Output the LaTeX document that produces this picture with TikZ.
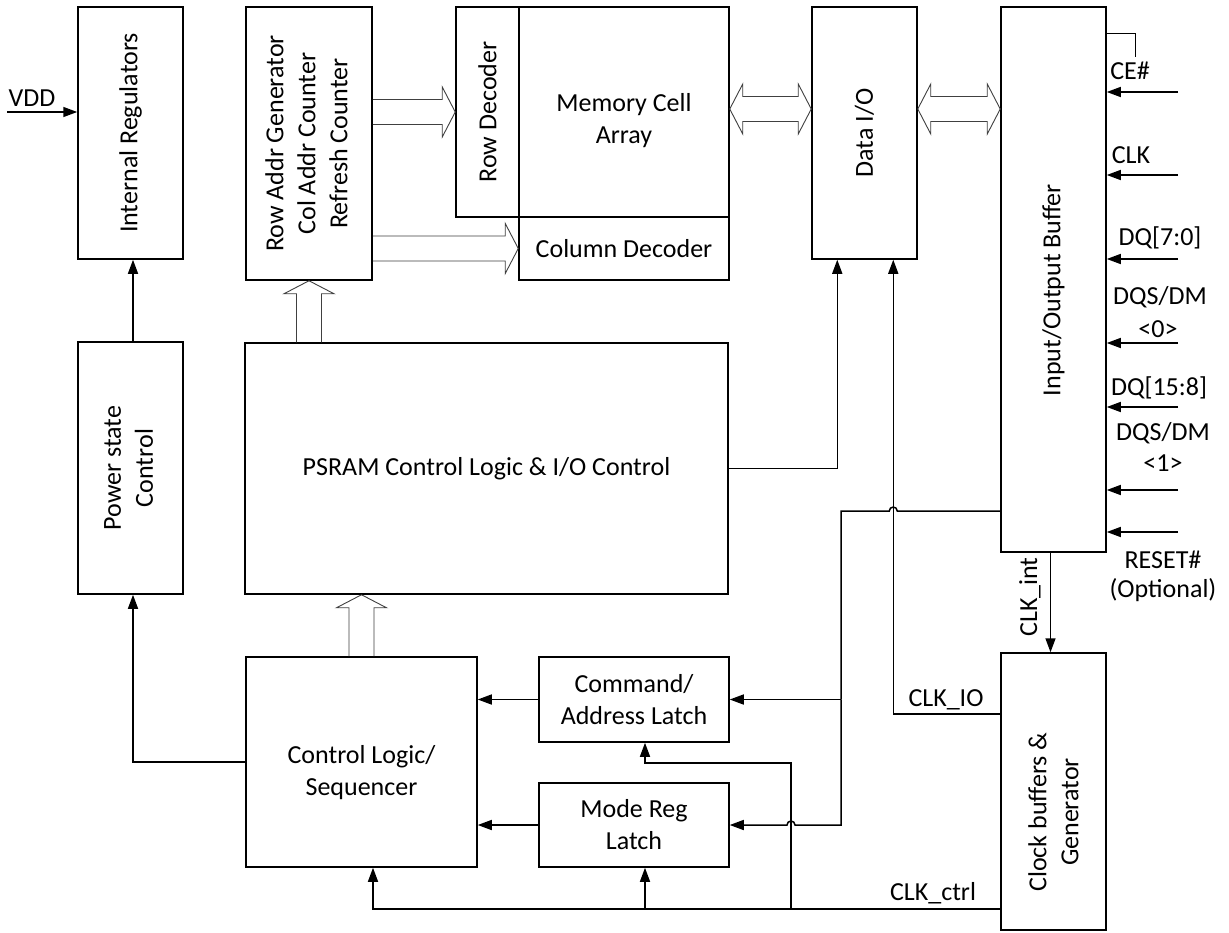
\documentclass[tikz,border=0pt]{standalone}
\usepackage{fontspec}
\setmainfont{Carlito}
\usetikzlibrary{arrows.meta,calc}
\newcommand{\fsz}{\fontsize{26}{32}\selectfont}
\newcommand{\hollowarrow}[2]{%
  \path ($(#2)!13pt!(#1)$) coordinate (hb);
  \draw[hollow] ($(#1)!12.5pt!90:(#2)$) -- ($(hb)!12.5pt!90:(#2)$) -- ($(hb)!25pt!90:(#2)$) -- (#2)
    -- ($(hb)!25pt!-90:(#2)$) -- ($(hb)!12.5pt!-90:(#2)$) -- ($(#1)!12.5pt!-90:(#2)$);}
\newcommand{\hollowdouble}[2]{%
  \path ($(#1)!13pt!(#2)$) coordinate (hba) ($(#2)!13pt!(#1)$) coordinate (hbb);
  \draw[hollow] (#1) -- ($(hba)!25pt!90:(#2)$) -- ($(hba)!12.5pt!90:(#2)$) -- ($(hbb)!12.5pt!-90:(#1)$)
    -- ($(hbb)!25pt!-90:(#1)$) -- (#2) -- ($(hbb)!25pt!90:(#1)$) -- ($(hbb)!12.5pt!90:(#1)$)
    -- ($(hba)!12.5pt!-90:(#2)$) -- ($(hba)!25pt!-90:(#2)$) -- cycle;}
\begin{document}
\begin{tikzpicture}[x=1pt,y=-1pt,
  box/.style={draw,line width=1.5pt,inner sep=0pt,align=center,font=\fsz},
  lbl/.style={font=\fsz,inner sep=0pt,align=center},
  wire/.style={line width=1.5pt},
  arr/.style={line width=1.5pt,-{Triangle[length=14pt,width=10pt]}},
  hollow/.style={line width=0.9pt,draw=black!75,line join=miter},
  thinline/.style={line width=0.8pt}]
\fill[white] (0,0) rectangle (1229,932);
\useasboundingbox (0,0) rectangle (1229,932);

% boxes
\node[box,minimum width=105pt,minimum height=252pt] (reg) at (130.5,133) {\rotatebox{90}{Internal Regulators}};
\node[box,minimum width=105pt,minimum height=252pt] (pwr) at (130.5,468) {\rotatebox{90}{\begin{tabular}{@{}c@{}}Power state\\Control\end{tabular}}};
\node[box,minimum width=126pt,minimum height=273pt] (rag) at (309,143.5) {\rotatebox{90}{\begin{tabular}{@{}c@{}}Row Addr Generator\\Col Addr Counter\\Refresh Counter\end{tabular}}};
\node[box,minimum width=63pt,minimum height=210pt] (rowdec) at (487.5,112) {\rotatebox{90}{Row Decoder}};
\node[box,minimum width=210pt,minimum height=210pt] (mem) at (624,112) {};
\node[lbl] (memtxt) at (624,121) {Memory Cell\\Array};
\node[box,minimum width=210pt,minimum height=63pt] (coldec) at (624,248.5) {Column Decoder};
\node[box,minimum width=105pt,minimum height=252pt] (dio) at (864.5,133) {\rotatebox{90}{Data I/O}};
\node[box,minimum width=105pt,minimum height=545pt] (iob) at (1053.5,279.5) {};
\node[lbl,rotate=90] (iobtxt) at (1053.5,290) {Input/Output Buffer};
\node[box,minimum width=483pt,minimum height=251pt] (psram) at (486.5,468.5) {PSRAM Control Logic \& I/O Control};
\node[box,minimum width=231pt,minimum height=210pt] (ctl) at (361.5,762) {};
\node[lbl] (ctltxt) at (361.5,773) {Control Logic/\\Sequencer};
\node[box,minimum width=190pt,minimum height=85pt] (cmd) at (634,699.5) {Command/\\Address Latch};
\node[box,minimum width=190pt,minimum height=84pt] (mode) at (634,825) {Mode Reg\\Latch};
\node[box,minimum width=105pt,minimum height=277pt] (clk) at (1053.5,791.5) {};
\node[lbl,rotate=90] (clktxt) at (1053.5,812) {Clock buffers \&\\Generator};

% hollow bus arrows
\coordinate (ragE1) at (rag.east |- rowdec.west);
\hollowarrow{ragE1}{rowdec.west}
\coordinate (ragE2) at (rag.east |- coldec.west);
\hollowarrow{ragE2}{coldec.west}
\coordinate (psN) at (rag.south |- psram.north);
\hollowarrow{psN}{rag.south}
\coordinate (psS) at (ctl.north |- psram.south);
\hollowarrow{ctl.north}{psS}
\coordinate (memE) at ($(mem.east)+(0,-3)$);
\coordinate (dioW) at (dio.west |- memE);
\hollowdouble{memE}{dioW}
\coordinate (dioE) at (dio.east |- memE);
\coordinate (iobW) at (iob.west |- memE);
\hollowdouble{dioE}{iobW}

% VDD and power
\coordinate (vdd) at (7,112);
\draw[arr] (vdd) -- (vdd -| reg.west);
\node[lbl] (vddl) at (32,98) {VDD};
\coordinate (pwrN) at ($(pwr.north)+(2.5,0)$);
\coordinate (regS) at ($(reg.south)+(2.5,0)$);
\draw[arr] (pwrN) -- (regS);
\coordinate (pwrS) at ($(pwr.south)+(2.5,0)$);
\draw[arr] (ctl.west) -| (pwrS);

% PSRAM to Data I/O
\coordinate (dA) at ($(dio.south west)+(26,0)$);
\coordinate (dB) at ($(dio.south west)+(82,0)$);
\draw[arr] (psram.east) -| (dA);

% CLK_IO
\coordinate (cio) at (clk.west |- 0,714);
\draw[arr] (cio) -| (dB);
\node[lbl] (cliol) at (946,700) {CLK\_IO};

% I/O buffer to latches
\coordinate (iobL) at (iob.west |- 0,511);
\coordinate (jv) at (841,511);
\coordinate (kv) at (791,909);
\draw[wire] (iobL) -- ($(dB |- iobL)+(4,0)$) arc[start angle=0,end angle=-180,radius=4] -- (jv) -- (jv |- cmd.east);
\draw[arr] (jv |- cmd.east) -- ($(kv |- mode.east)+(50,0)$) -- ($(kv |- mode.east)+(4,0)$) arc[start angle=0,end angle=-180,radius=4] -- (mode.east);
\draw[arr] (jv |- cmd.east) -- (cmd.east);

% latches to control logic
\draw[arr] (cmd.west) -- (cmd.west -| ctl.east);
\draw[arr] (mode.west) -- (mode.west -| ctl.east);

% CLK_ctrl
\coordinate (cct) at (clk.west |- 0,909);
\coordinate (ctlS) at ($(ctl.south)+(11.5,0)$);
\coordinate (modeS) at ($(mode.south)+(11,0)$);
\coordinate (cmdS) at ($(cmd.south)+(11,0)$);
\draw[arr] (cct) -| (ctlS);
\draw[arr] (modeS |- cct) -- (modeS);
\draw[arr] (kv) |- ($(cmdS)+(0,20)$) -- (cmdS);
\node[lbl] (cctl) at (933,893) {CLK\_ctrl};

% CLK_int
\coordinate (iobS) at ($(iob.south)+(-3,0)$);
\coordinate (clkN) at ($(clk.north)+(-3,0)$);
\draw[arr] (iobS) -- (clkN);
\node[lbl,rotate=90] (clkintl) at (1030,597) {CLK\_int};

% pins
\foreach \yy/\n in {92/1,175/2,259/3,343/4,407/5,490/6,532/7}{
  \coordinate (pin\n) at (1178,\yy);
  \draw[arr] (pin\n) -- (pin\n -| iob.east);
}
\coordinate (ce1) at (iob.east |- 0,33);
\coordinate (ce2) at (1135,57);
\draw[thinline] (ce1) -| (ce2);
\node[lbl] (l1) at (1130,71) {CE\#};
\node[lbl] (l2) at (1131,155) {CLK};
\node[lbl] (l3) at (1160,238) {DQ[7:0]};
\node[lbl] (l4) at (1160,297) {DQS/DM};
\node[lbl] (l5) at (1158,329) {<0>};
\node[lbl] (l6) at (1159,388) {DQ[15:8]};
\node[lbl] (l7) at (1163,433) {DQS/DM};
\node[lbl] (l8) at (1163,463) {<1>};
\node[lbl] (l9) at (1163,560) {RESET\#};
\node[lbl] (l10) at (1163,590) {(Optional)};
\end{tikzpicture}
\end{document}
